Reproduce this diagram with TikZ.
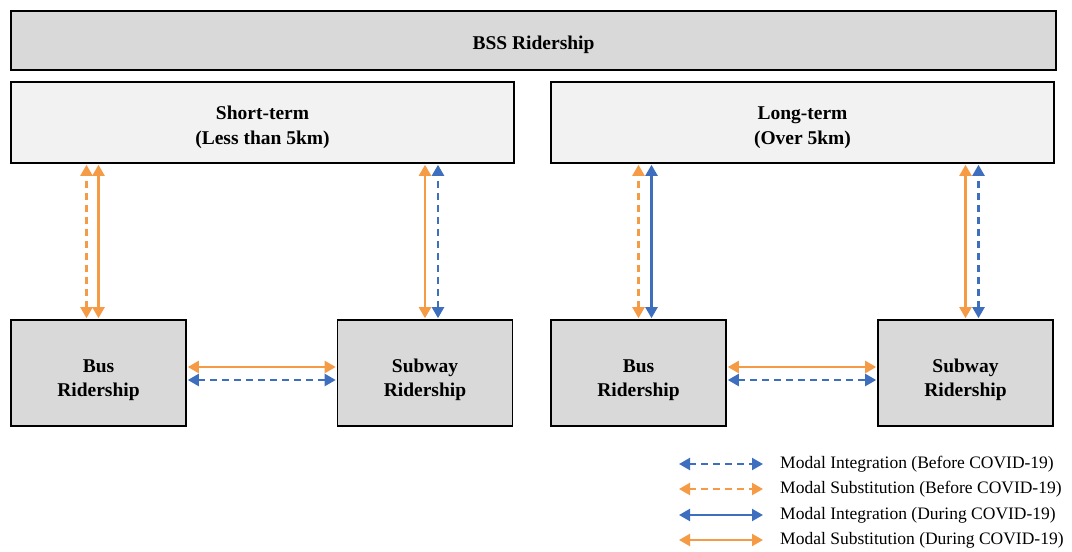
\documentclass[tikz,border=0pt]{standalone}
\usepackage{fontspec}
\setmainfont{Liberation Serif}
\usepackage{tikz}
\usetikzlibrary{arrows.meta}

\definecolor{bssorange}{HTML}{F59A45}
\definecolor{bssblue}{HTML}{3E6FBF}
\definecolor{boxdark}{HTML}{D9D9D9}
\definecolor{boxlight}{HTML}{F2F2F2}

% box label, lowered a little
\newcommand{\boxlabel}[2][4pt]{\raisebox{-#1}[\height][\depth]{\begin{tabular}{@{}c@{}}#2\end{tabular}}}

\begin{document}
\begin{tikzpicture}
	[x=1pt,y=-1pt,<->,>={Triangle[width=12pt,length=11pt]},shorten >=1pt,shorten <=1pt,
		box/.style={rectangle,draw,line width=1.6pt,font=\fontsize{19.5}{25.5}\selectfont\bfseries},
		dark box/.style={box,fill=boxdark},
		light box/.style={box,fill=boxlight,minimum width=503pt,minimum height=81pt},
		ride box/.style={dark box,minimum width=175pt,minimum height=106pt,
			font=\fontsize{19.5}{24}\selectfont\bfseries},
		integ/.style={bssblue,line width=2.2pt},
		subst/.style={bssorange,line width=2.2pt},
		before/.style={dash pattern=on 7pt off 5pt},
		legend text/.style={anchor=west,font=\fontsize{17.5}{20}\selectfont,inner sep=0pt}]

	\useasboundingbox (0,0) rectangle (1072,552);

	\node[dark box,minimum width=1045pt,minimum height=59pt] (bss) at (533.5,40.5) {\boxlabel{BSS Ridership}};
	\node[light box] (short) at (262.5,122.5) {\boxlabel[4.5pt]{Short-term\\(Less than 5km)}};
	\node[light box] (long)  at (802.5,122.5) {\boxlabel[4.5pt]{Long-term\\(Over 5km)}};
	\node[ride box] (busA) at (98.5,373)  {\boxlabel[7pt]{Bus\\Ridership}};
	\node[ride box] (subA) at (425,373)   {\boxlabel[7pt]{Subway\\Ridership}};
	\node[ride box] (busB) at (638.5,373) {\boxlabel[7pt]{Bus\\Ridership}};
	\node[ride box] (subB) at (965.5,373) {\boxlabel[7pt]{Subway\\Ridership}};

	% short-term
	\draw[subst,before] ([xshift=-12pt]busA.north) -- ([xshift=-12pt]busA.north |- short.south);
	\draw[subst]        (busA.north) -- (busA.north |- short.south);
	\draw[subst]        (subA.north) -- (subA.north |- short.south);
	\draw[integ,before] ([xshift=13pt]subA.north) -- ([xshift=13pt]subA.north |- short.south);
	\draw[subst]        ([yshift=6pt]busA.east) -- ([yshift=6pt]subA.west);
	\draw[integ,before] ([yshift=-7pt]busA.east) -- ([yshift=-7pt]subA.west);

	% long-term
	\draw[subst,before] (busB.north) -- (busB.north |- long.south);
	\draw[integ]        ([xshift=13pt]busB.north) -- ([xshift=13pt]busB.north |- long.south);
	\draw[subst]        (subB.north) -- (subB.north |- long.south);
	\draw[integ,before] ([xshift=13pt]subB.north) -- ([xshift=13pt]subB.north |- long.south);
	\draw[subst]        ([yshift=6pt]busB.east) -- ([yshift=6pt]subB.west);
	\draw[integ,before] ([yshift=-7pt]busB.east) -- ([yshift=-7pt]subB.west);

	% legend
	\coordinate (leg1a) at (678,464); \coordinate (leg1b) at (764,464);
	\coordinate (leg2a) at (678,489); \coordinate (leg2b) at (764,489);
	\coordinate (leg3a) at (678,515); \coordinate (leg3b) at (764,515);
	\coordinate (leg4a) at (678,540); \coordinate (leg4b) at (764,540);
	\draw[integ,before] (leg1a) -- (leg1b);
	\draw[subst,before] (leg2a) -- (leg2b);
	\draw[integ]        (leg3a) -- (leg3b);
	\draw[subst]        (leg4a) -- (leg4b);
	\node[legend text] (leg1) at (780,464) {Modal Integration (Before COVID-19)};
	\node[legend text] (leg2) at (780,489) {Modal Substitution (Before COVID-19)};
	\node[legend text] (leg3) at (780,515) {Modal Integration (During COVID-19)};
	\node[legend text] (leg4) at (780,540) {Modal Substitution (During COVID-19)};

\end{tikzpicture}
\end{document}
